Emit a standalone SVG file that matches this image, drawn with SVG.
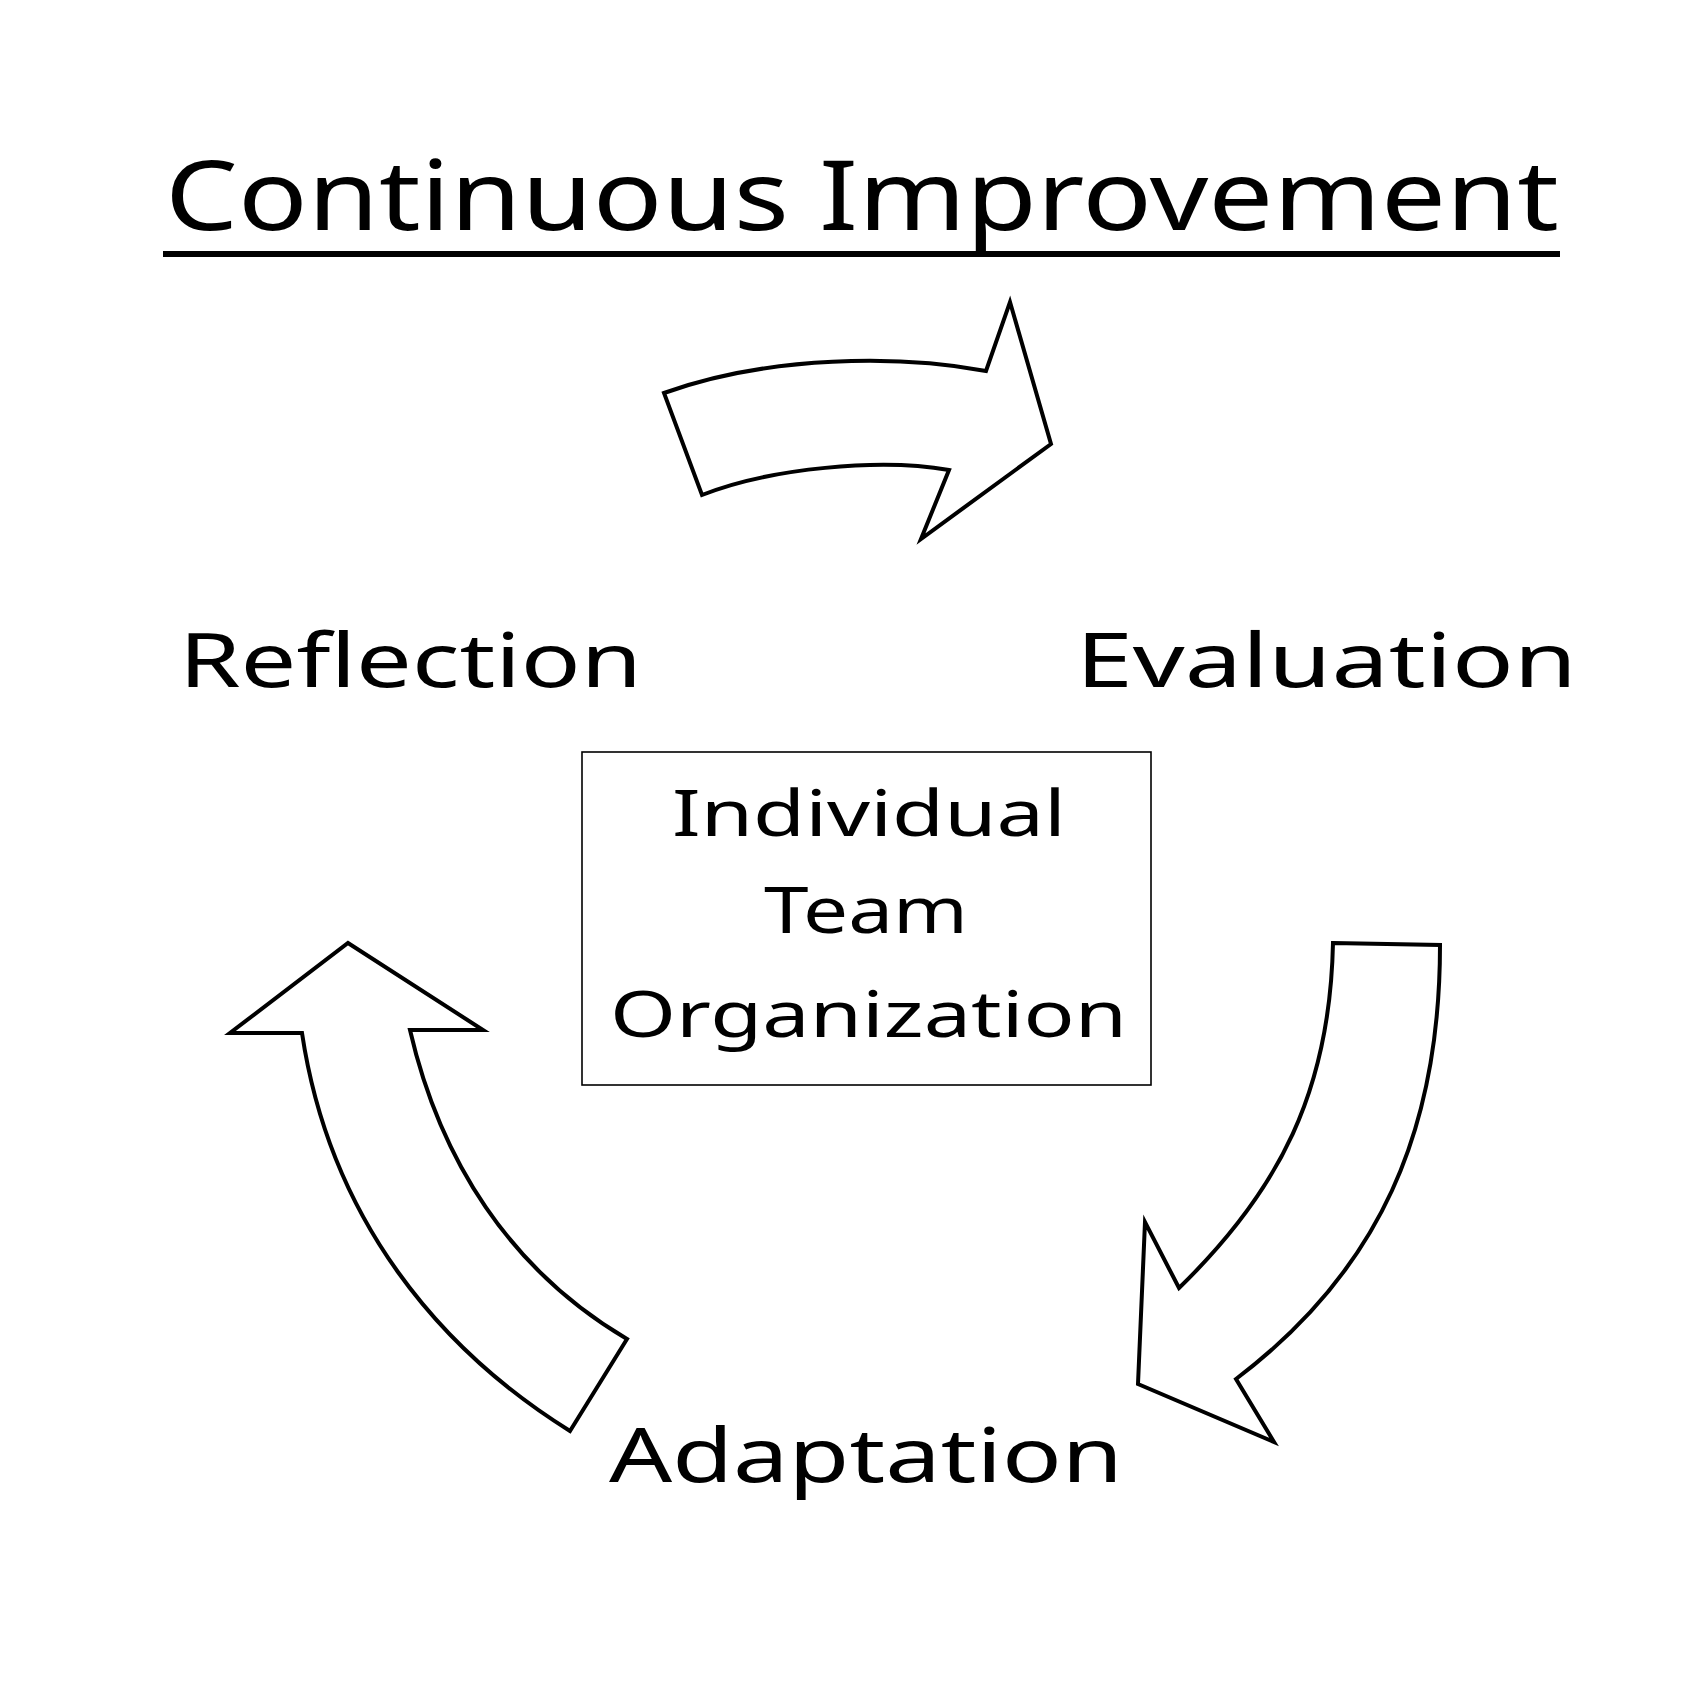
<svg xmlns="http://www.w3.org/2000/svg" width="1691" height="1695" viewBox="0 0 1691 1695">
<style>
.bg{fill:#ffffff}
.t{font-family:"Noto Sans","DejaVu Sans",sans-serif;fill:#000000}
.arrow{fill:#ffffff;stroke:#000000;stroke-width:4;stroke-linejoin:miter}
.box{fill:#ffffff;stroke:#000000;stroke-width:1.6}
</style>
<rect class="bg" x="0" y="0" width="1691" height="1695"/>
<g id="title">
<text class="t" x="165" y="230" font-size="96" textLength="1394" lengthAdjust="spacingAndGlyphs">Continuous Improvement</text>
<rect x="163" y="251" width="1397" height="6" fill="#000000"/>
</g>
<g id="connectors">
<path class="arrow" d="M664,393 C770,355 900,355 986,371 L1010,302 L1051,444 L921,539 L949,470 C880,458 770,468 702,495 Z"/>
<path class="arrow" d="M1333,943 L1440,945 C1440,1130 1380,1270 1236,1379 L1274,1442 L1138,1384 L1145,1222 L1179,1288 C1280,1190 1330,1090 1333,943 Z"/>
<path class="arrow" d="M627,1339 L570,1431 C440,1350 330,1220 302,1033 L230,1033 L348,943 L483,1030 L410,1030 C440,1160 510,1270 627,1339 Z"/>
</g>
<g id="reflection">
<text class="t" x="179" y="687" font-size="74" textLength="463" lengthAdjust="spacingAndGlyphs">Reflection</text>
</g>
<g id="evaluation">
<text class="t" x="1076" y="687" font-size="74" textLength="501" lengthAdjust="spacingAndGlyphs">Evaluation</text>
</g>
<g id="adaptation">
<text class="t" x="609" y="1482" font-size="74" textLength="514" lengthAdjust="spacingAndGlyphs">Adaptation</text>
</g>
<g id="center">
<rect class="box" x="582" y="752" width="569" height="333"/>
<text class="t" x="672" y="836" font-size="64" textLength="394" lengthAdjust="spacingAndGlyphs">Individual</text>
<text class="t" x="764" y="933" font-size="64" textLength="204" lengthAdjust="spacingAndGlyphs">Team</text>
<text class="t" x="610" y="1037" font-size="64" textLength="517" lengthAdjust="spacingAndGlyphs">Organization</text>
</g>
</svg>
